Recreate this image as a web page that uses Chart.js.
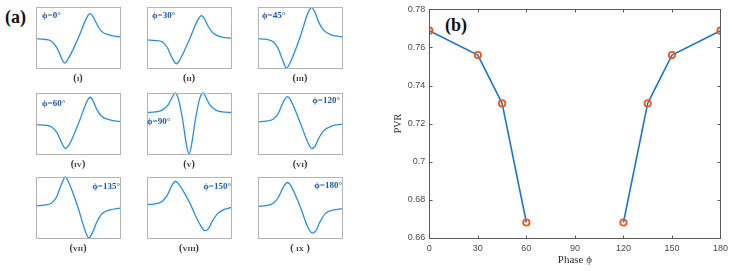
<!DOCTYPE html>
<html>
<head>
<meta charset="utf-8">
<script src="https://cdn.jsdelivr.net/npm/chart.js@4/dist/chart.umd.min.js"></script>
<style>
body { margin: 0; width: 733px; height: 271px; position: relative; background: #fff; overflow: hidden; }
.cell { position: absolute; }
.txt { position: absolute; font-family: "Liberation Serif", serif; white-space: nowrap; }
.panel { font-size: 18px; font-weight: bold; line-height: 18px; color: #111; }
.phase { font-size: 9px; font-weight: bold; line-height: 9px; color: #1f5aa6; }
.roman { font-size: 10px; font-weight: bold; line-height: 10px; color: #333; font-variant: small-caps; transform: translateX(-50%); }
</style>
</head>
<body>
<div class="txt panel" style="left:5px;top:8px">(a)</div>
<div class="txt panel" style="left:445px;top:16px">(b)</div>
<div class="cell" style="left:370px;top:0;width:363px;height:271px"><canvas id="pvrChart"></canvas></div>
<script>
// panel (b) data
const phases = [0, 30, 45, 60, 90, 120, 135, 150, 180];
const pvr = [0.7688, 0.756, 0.7306, 0.668, null, 0.668, 0.7306, 0.756, 0.7688];
const xTicks = [0, 30, 60, 90, 120, 150, 180];
const yTicks = [0.66, 0.68, 0.70, 0.72, 0.74, 0.76, 0.78];

// panel (a) waveforms (x: 0-100 across the box, y: 0-100 up the box)
const wave1 = [[0,48],[10,47],[17,45],[23,37],[28,24],[31,14],[34,8],[37,12],[49,45],[60,81],[64,89],[68,84],[72,73],[78,60],[88,54],[100,51]];
const wave2 = [[0,46],[10,45],[18,43],[24,34],[29,19],[32,11],[35,7],[38,11],[50,45],[61,80],[65,86],[69,79],[73,68],[79,57],[88,51],[100,49]];
const wave3 = [[0,48],[10,47],[18,43],[24,32],[29,14],[34,0],[38,8],[50,50],[60,92],[64,99],[68,91],[72,76],[78,62],[88,54],[100,51]];
const wave4 = [[0,48],[12,47],[19,44],[25,35],[30,20],[35,9],[39,14],[50,48],[61,87],[64.5,93],[68,87],[72,74],[78,62],[88,56],[100,53]];
const wave5 = [[0,68],[10,69],[18,72],[25,80],[30,93],[33.5,100],[37,92],[42,60],[47,15],[50,0],[53,15],[58,60],[63,92],[67,100],[70,93],[75,80],[82,72],[90,69],[100,68]];
const wave6 = [[0,53],[10,54],[18,57],[24,66],[30,85],[35,94],[39,88],[50,52],[60,17],[64,9],[68,13],[72,25],[78,38],[88,46],[100,49]];
const wave7 = [[0,53],[10,54],[18,57],[24,66],[30,87],[35,100],[39,91],[50,50],[59,10],[63,0],[67,8],[72,25],[78,39],[88,46],[100,49]];
const wave8 = [[0,55],[10,56],[18,60],[24,70],[30,87],[34,93],[38,88],[50,60],[62,25],[69,12],[73,15],[78,28],[84,40],[92,47],[100,50]];
const wave9 = [[0,52],[10,53],[18,57],[24,66],[30,83],[35,91],[39,86],[50,52],[60,16],[65,8],[69,12],[74,27],[80,40],[90,46],[100,48]];

const waves = [wave1, wave2, wave3, wave4, wave5, wave6, wave7, wave8, wave9];
const phaseLabels = ['ϕ=0°', 'ϕ=30°', 'ϕ=45°', 'ϕ=60°', 'ϕ=90°', 'ϕ=120°', 'ϕ=135°', 'ϕ=150°', 'ϕ=180°'];
const romanLabels = ['(i)', '(ii)', '(iii)', '(iv)', '(v)', '(vi)', '(vii)', '(viii)', '( ix )'];

// layout of the 3x3 grid
const colLeft = [36, 147, 258];
const rowTop = [7, 93, 177];
const boxW = 84, boxH = 61;
// where each phase label sits: [dx from box left or right, dy of centre from box top, right aligned?]
const phasePos = [[6,8,false],[5,8,false],[4,8,false],[6,10,false],[0,28,false],[2,7,true],[0,9,true],[0,9,true],[0,8,true]];

const boxPlugin = {
    id: 'box',
    afterDraw(chart) {
        const a = chart.chartArea;
        const c = chart.ctx;
        c.save();
        c.strokeStyle = '#b4b4b4';
        c.lineWidth = 1;
        c.strokeRect(Math.round(a.left) + 0.5, Math.round(a.top) + 0.5, Math.round(a.right - a.left), Math.round(a.bottom - a.top));
        c.restore();
    }
};

waves.forEach((w, i) => {
    const left = colLeft[i % 3], top = rowTop[Math.floor(i / 3)];
    const holder = document.createElement('div');
    holder.className = 'cell';
    holder.style.left = (left - 3) + 'px';
    holder.style.top = (top - 3) + 'px';
    const cv = document.createElement('canvas');
    cv.width = boxW + 6;
    cv.height = boxH + 6;
    holder.appendChild(cv);
    document.body.appendChild(holder);

    new Chart(cv.getContext('2d'), {
        type: 'line',
        data: {
            datasets: [{
                data: w.map(p => ({ x: p[0], y: p[1] })),
                borderColor: '#2a8fd8',
                borderWidth: 1.3,
                pointRadius: 0,
                cubicInterpolationMode: 'monotone',
                clip: false
            }]
        },
        options: {
            responsive: false,
            animation: false,
            layout: { padding: 3 },
            scales: {
                x: { type: 'linear', min: 0, max: 100, display: false },
                y: { min: 0, max: 100, display: false }
            },
            plugins: { legend: { display: false }, tooltip: { enabled: false } }
        },
        plugins: [boxPlugin]
    });

    const pl = document.createElement('div');
    pl.className = 'txt phase';
    pl.textContent = phaseLabels[i];
    const pp = phasePos[i];
    if (pp[2]) pl.style.right = (733 - (left + boxW) + pp[0]) + 'px';
    else pl.style.left = (left + pp[0]) + 'px';
    pl.style.top = (top + pp[1] - 4.5) + 'px';
    document.body.appendChild(pl);

    const rl = document.createElement('div');
    rl.className = 'txt roman';
    rl.textContent = romanLabels[i];
    rl.style.left = (left + boxW / 2) + 'px';
    rl.style.top = (top + boxH + 5) + 'px';
    document.body.appendChild(rl);
});

// MATLAB-style box with inward ticks on all four sides
const matlabBox = {
    id: 'matlabBox',
    afterDraw(chart) {
        const a = chart.chartArea;
        const c = chart.ctx;
        const xs = chart.scales.x, ys = chart.scales.y;
        const t = 3;
        c.save();
        c.strokeStyle = '#5a5a5a';
        c.lineWidth = 1;
        const L = Math.round(a.left) + 0.5, R = Math.round(a.right) + 0.5;
        const T = Math.round(a.top) + 0.5, B = Math.round(a.bottom) + 0.5;
        c.strokeRect(L, T, R - L, B - T);
        c.beginPath();
        xTicks.forEach(v => {
            const px = Math.round(xs.getPixelForValue(v)) + 0.5;
            c.moveTo(px, B); c.lineTo(px, B - t);
            c.moveTo(px, T); c.lineTo(px, T + t);
        });
        yTicks.forEach(v => {
            const py = Math.round(ys.getPixelForValue(v)) + 0.5;
            c.moveTo(L, py); c.lineTo(L + t, py);
            c.moveTo(R, py); c.lineTo(R - t, py);
        });
        c.stroke();
        c.restore();
    }
};

new Chart(document.getElementById('pvrChart').getContext('2d'), {
    type: 'line',
    data: {
        datasets: [{
            data: phases.map((p, i) => ({ x: p, y: pvr[i] })),
            borderColor: '#1f77c4',
            borderWidth: 1.6,
            pointRadius: 3.2,
            pointBorderWidth: 1.8,
            pointBorderColor: '#ea5a1e',
            pointBackgroundColor: 'rgba(255,255,255,0)',
            spanGaps: false,
            tension: 0
        }]
    },
    options: {
        responsive: true,
        maintainAspectRatio: false,
        animation: false,
        layout: { padding: { left: 18, right: 10.7, top: 7.3, bottom: 0 } },
        scales: {
            x: {
                type: 'linear', min: 0, max: 180,
                afterBuildTicks: s => { s.ticks = xTicks.map(v => ({ value: v })); },
                afterFit: s => { s.height = 33.3; },
                grid: { display: false, drawTicks: false },
                border: { display: false },
                ticks: { padding: 5, color: '#4a4a4a', font: { family: 'Liberation Sans', size: 9 } },
                title: { display: true, text: 'Phase ϕ', color: '#333', padding: 4, font: { family: 'Liberation Serif', size: 11 } }
            },
            y: {
                min: 0.66, max: 0.78,
                afterBuildTicks: s => { s.ticks = yTicks.map(v => ({ value: v })); },
                afterFit: s => { s.width = 41.3; },
                grid: { display: false, drawTicks: false },
                border: { display: false },
                ticks: {
                    padding: 4, color: '#4a4a4a', font: { family: 'Liberation Sans', size: 9 },
                    callback: v => String(Number(v.toFixed(2)))
                },
                title: { display: true, text: 'PVR', color: '#333', padding: 4, font: { family: 'Liberation Serif', size: 10 } }
            }
        },
        plugins: { legend: { display: false }, tooltip: { enabled: false } }
    },
    plugins: [matlabBox]
});
</script>
</body>
</html>
